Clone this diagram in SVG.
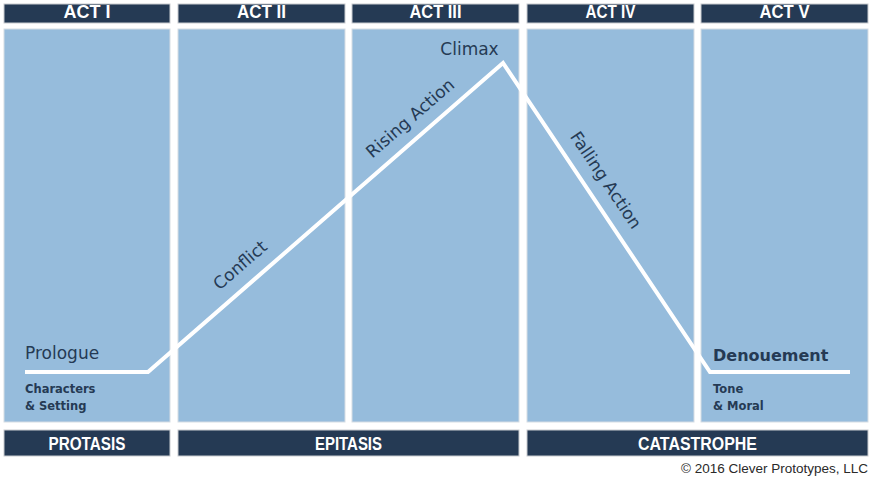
<svg xmlns="http://www.w3.org/2000/svg" width="873" height="485" viewBox="0 0 873 485">
<style>
.bar{fill:#253a54;stroke:#c9ccd0;stroke-width:1}
.panel{fill:#96bcdc;stroke:#d6dde4;stroke-width:1}
.ht{font-family:"Liberation Sans",Arial,sans-serif;font-weight:bold;font-size:18px;fill:#ffffff;text-anchor:middle}
.lbl{font-family:"DejaVu Sans",sans-serif;font-size:17px;fill:#253a54}
.lblb{font-family:"DejaVu Sans",sans-serif;font-size:16px;font-weight:bold;fill:#253a54}
.sm{font-family:"DejaVu Sans",sans-serif;font-size:11.5px;font-weight:bold;fill:#253a54}
.line{fill:none;stroke:#ffffff;stroke-width:4;stroke-linejoin:miter}
</style>
<rect width="873" height="485" fill="#ffffff"/>
<g id="act1"><rect class="bar" x="4" y="4" width="166" height="19"/><text class="ht" x="87" y="18" textLength="47" lengthAdjust="spacingAndGlyphs">ACT I</text><rect class="panel" x="4" y="29" width="166" height="393"/></g>
<g id="act2"><rect class="bar" x="178" y="4" width="167" height="19"/><text class="ht" x="261.5" y="18" textLength="49" lengthAdjust="spacingAndGlyphs">ACT II</text><rect class="panel" x="178" y="29" width="167" height="393"/></g>
<g id="act3"><rect class="bar" x="352" y="4" width="167" height="19"/><text class="ht" x="435.5" y="18" textLength="52" lengthAdjust="spacingAndGlyphs">ACT III</text><rect class="panel" x="352" y="29" width="167" height="393"/></g>
<g id="act4"><rect class="bar" x="527" y="4" width="167" height="19"/><text class="ht" x="610.5" y="18" textLength="50" lengthAdjust="spacingAndGlyphs">ACT IV</text><rect class="panel" x="527" y="29" width="167" height="393"/></g>
<g id="act5"><rect class="bar" x="701" y="4" width="167" height="19"/><text class="ht" x="784.5" y="18" textLength="50" lengthAdjust="spacingAndGlyphs">ACT V</text><rect class="panel" x="701" y="29" width="167" height="393"/></g>
<g id="protasis"><rect class="bar" x="4" y="430" width="166" height="26"/><text class="ht" x="87" y="450" textLength="77" lengthAdjust="spacingAndGlyphs">PROTASIS</text></g>
<g id="epitasis"><rect class="bar" x="178" y="430" width="341" height="26"/><text class="ht" x="348.5" y="450" textLength="67" lengthAdjust="spacingAndGlyphs">EPITASIS</text></g>
<g id="catastrophe"><rect class="bar" x="527" y="430" width="341" height="26"/><text class="ht" x="697.5" y="450" textLength="119" lengthAdjust="spacingAndGlyphs">CATASTROPHE</text></g>
<g id="connectors"><polyline class="line" points="25,372 148,372 503,63 710,372 850,372"/></g>
<g id="labels">
<text class="lbl" x="25" y="359">Prologue</text>
<text class="sm" x="25" y="393">Characters</text>
<text class="sm" x="25" y="410">&amp; Setting</text>
<text class="lblb" x="713" y="361">Denouement</text>
<text class="sm" x="713" y="393">Tone</text>
<text class="sm" x="713" y="410">&amp; Moral</text>
<text class="lbl" x="469.5" y="55" text-anchor="middle">Climax</text>
<text class="lbl" x="0" y="6" text-anchor="middle" transform="translate(240,265) rotate(-41)">Conflict</text>
<text class="lbl" x="0" y="6" text-anchor="middle" transform="translate(410,118) rotate(-41)">Rising Action</text>
<text class="lbl" x="0" y="6" text-anchor="middle" transform="translate(606,180) rotate(56)">Falling Action</text>
<text x="868" y="473" text-anchor="end" font-family="Liberation Sans,Arial,sans-serif" font-size="13.5" fill="#2a2a2a">© 2016 Clever Prototypes, LLC</text>
</g>
</svg>
